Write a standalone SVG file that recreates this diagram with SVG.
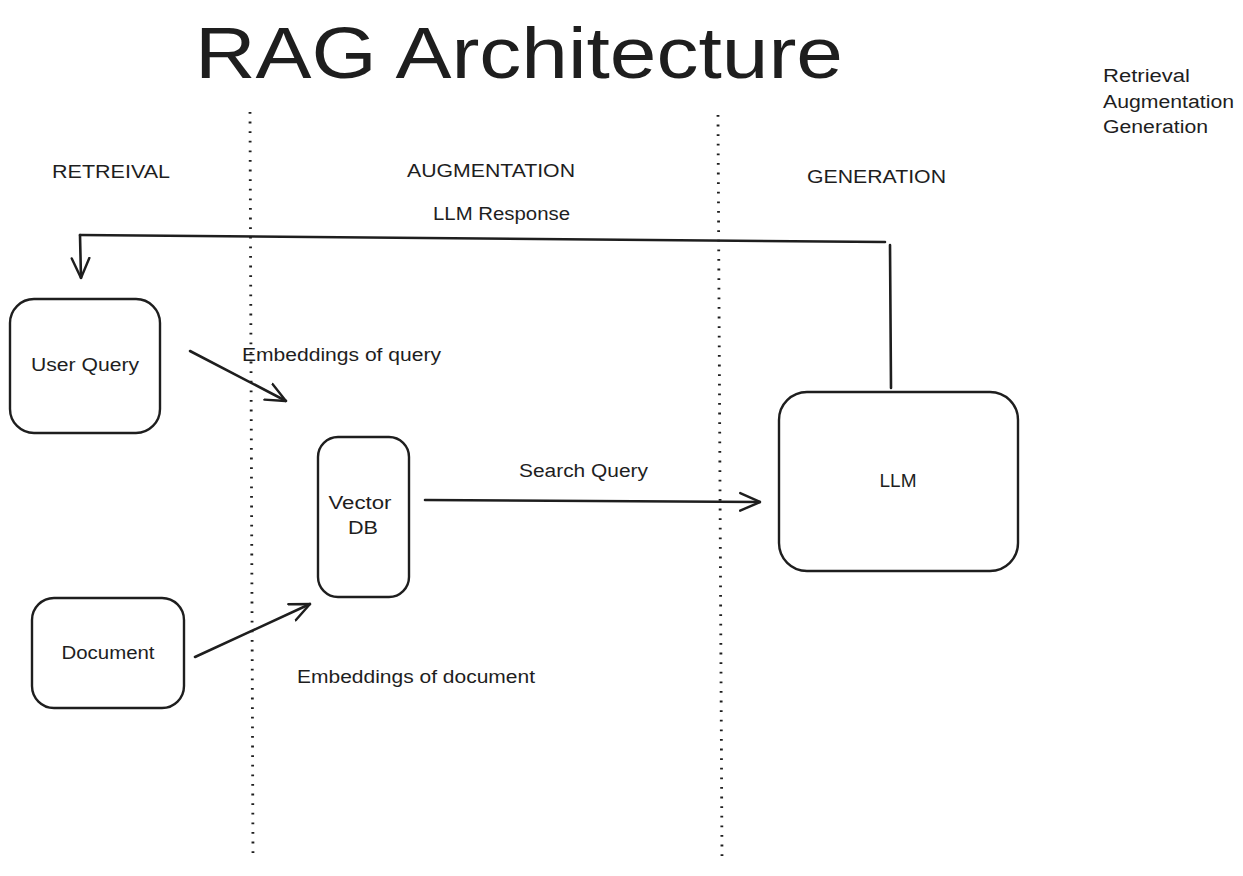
<svg xmlns="http://www.w3.org/2000/svg" width="1243" height="876" viewBox="0 0 1243 876">
<style>
text{font-family:"Liberation Sans","DejaVu Sans",sans-serif;fill:#1e1e1e;font-size:18px}
.title{font-size:72px}
.node{fill:none;stroke:#1e1e1e;stroke-width:2.4}
.conn{fill:none;stroke:#1e1e1e;stroke-width:2.6;stroke-linecap:round}
.dot{fill:none;stroke:#1e1e1e;stroke-width:2.8;stroke-dasharray:1.8 7.8}
</style>
<defs>
<marker id="arr" viewBox="0 0 20 20" refX="19" refY="10" markerWidth="22" markerHeight="22" markerUnits="userSpaceOnUse" orient="auto">
<path d="M1,2 L19,10 L1,18" fill="none" stroke="#1e1e1e" stroke-width="2.2" stroke-linecap="round"/>
</marker>
</defs>
<rect width="1243" height="876" fill="#ffffff"/>
<g id="title"><text class="title" x="195" y="78" textLength="648" lengthAdjust="spacingAndGlyphs">RAG Architecture</text></g>
<g id="legend">
<text x="1103" y="82" textLength="87" lengthAdjust="spacingAndGlyphs">Retrieval</text>
<text x="1103" y="108" textLength="131" lengthAdjust="spacingAndGlyphs">Augmentation</text>
<text x="1103" y="133" textLength="105" lengthAdjust="spacingAndGlyphs">Generation</text>
</g>
<g id="lanes">
<line class="dot" x1="250" y1="112" x2="253" y2="858"/>
<line class="dot" x1="718" y1="115" x2="722" y2="858"/>
<text x="52" y="178" textLength="118" lengthAdjust="spacingAndGlyphs">RETREIVAL</text>
<text x="407" y="177" textLength="168" lengthAdjust="spacingAndGlyphs">AUGMENTATION</text>
<text x="807" y="183" textLength="139" lengthAdjust="spacingAndGlyphs">GENERATION</text>
</g>
<g id="connectors">
<path class="conn" d="M885,242 L80,235"/>
<path class="conn" d="M890,245 L891,388"/>
<path class="conn" d="M80,235 L81,278" marker-end="url(#arr)"/>
<text x="433" y="220" textLength="137" lengthAdjust="spacingAndGlyphs">LLM Response</text>
<path class="conn" d="M190,351 L286,401" marker-end="url(#arr)"/>
<text x="242" y="361" textLength="199" lengthAdjust="spacingAndGlyphs">Embeddings of query</text>
<path class="conn" d="M425,500 L760,502" marker-end="url(#arr)"/>
<text x="519" y="477" textLength="129" lengthAdjust="spacingAndGlyphs">Search Query</text>
<path class="conn" d="M195,657 L310,604" marker-end="url(#arr)"/>
<text x="297" y="683" textLength="238" lengthAdjust="spacingAndGlyphs">Embeddings of document</text>
</g>
<g id="user-query">
<rect class="node" x="10" y="299" width="150" height="134" rx="24"/>
<text x="85" y="371" text-anchor="middle" textLength="108" lengthAdjust="spacingAndGlyphs">User Query</text>
</g>
<g id="vector-db">
<rect class="node" x="318" y="437" width="91" height="160" rx="20"/>
<text x="360" y="509" text-anchor="middle" textLength="63" lengthAdjust="spacingAndGlyphs">Vector</text>
<text x="363" y="534" text-anchor="middle" textLength="30" lengthAdjust="spacingAndGlyphs">DB</text>
</g>
<g id="llm">
<rect class="node" x="779" y="392" width="239" height="179" rx="28"/>
<text x="898" y="487" text-anchor="middle" textLength="37" lengthAdjust="spacingAndGlyphs">LLM</text>
</g>
<g id="document">
<rect class="node" x="32" y="598" width="152" height="110" rx="22"/>
<text x="108" y="659" text-anchor="middle" textLength="93" lengthAdjust="spacingAndGlyphs">Document</text>
</g>
</svg>
